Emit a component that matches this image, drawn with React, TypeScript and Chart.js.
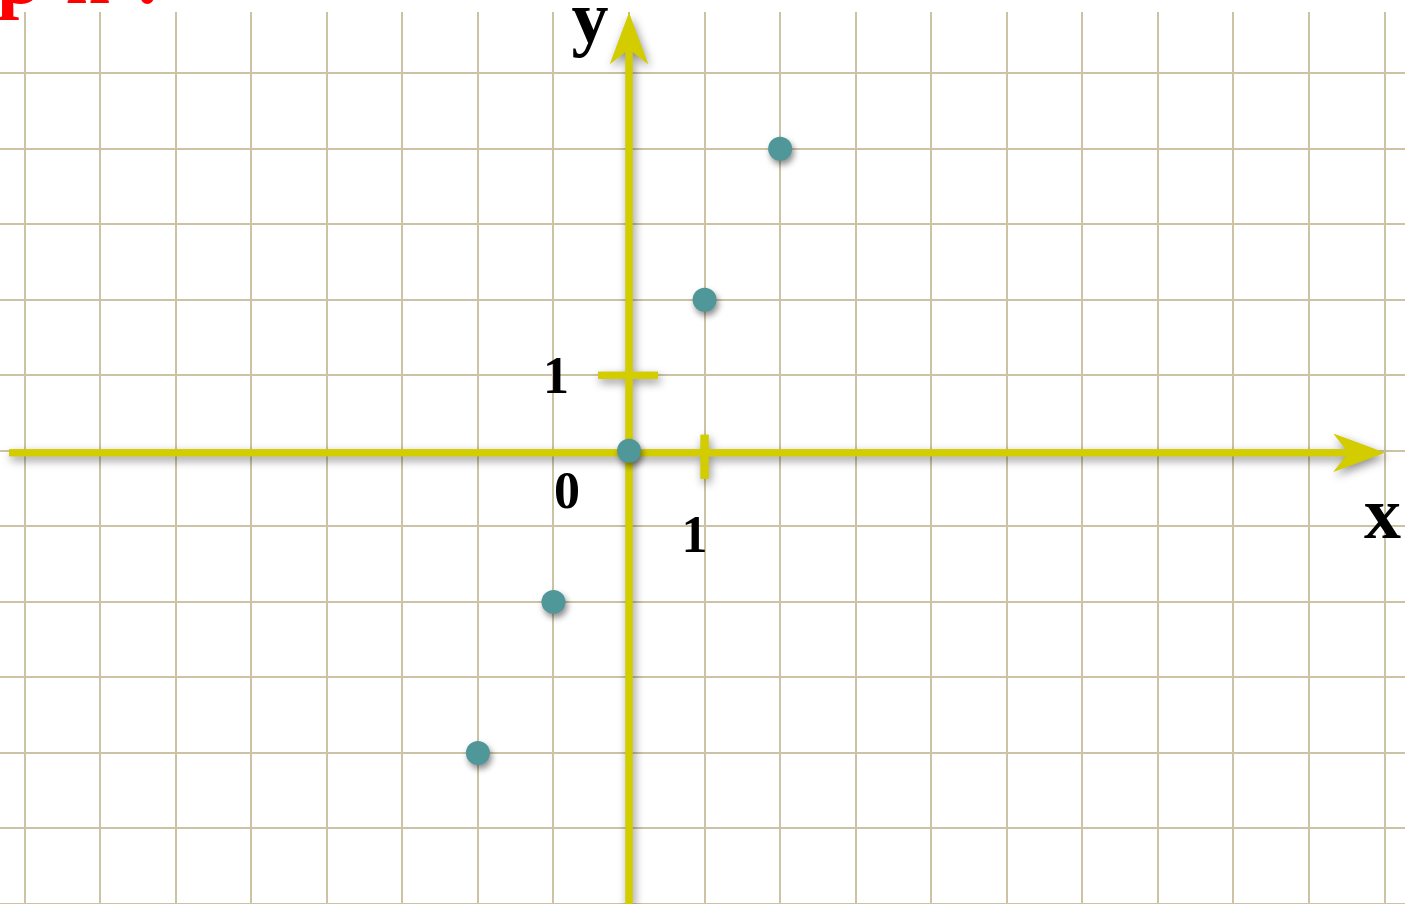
import React, { useEffect, useRef } from 'react';
import { Chart, registerables } from 'chart.js';

Chart.register(...registerables);

// ---- data ----
const xValues = [-2, -1, 0, 1, 2];
const yValues = [-4, -2, 0, 2, 4];
const xMin = -8.325;
const xMax = 10.27;
const yMin = -6.0;
const yMax = 5.81;
const xGridTicks = [-8, -7, -6, -5, -4, -3, -2, -1, 0, 1, 2, 3, 4, 5, 6, 7, 8, 9, 10];
const yGridTicks = [-6, -5, -4, -3, -2, -1, 0, 1, 2, 3, 4, 5];
const xArrowTip = 10;
const xAxisLabel = 'x';
const yAxisLabel = 'y';
const originLabel = '0';
const unitLabel = '1';
const headerText = 'ph!';

const gridColor = '#cbc3a3';
const yellow = '#d3cd00';
const pointColor = '#50979a';
const serif = '"Liberation Serif", "Times New Roman", serif';

function drawAxesShapes(ctx: CanvasRenderingContext2D, chart: any) {
  const { x, y } = chart.scales;
  const ox = x.getPixelForValue(0);
  const oy = y.getPixelForValue(0) + 2;
  const t = 7;
  const L = 51, N = 36, H = 19;
  const xTip = x.getPixelForValue(xArrowTip);
  const yTip = chart.chartArea.top + 1;
  const bottom = chart.chartArea.bottom;
  ctx.beginPath();
  ctx.rect(9, oy - t / 2, xTip - N - 9 + 2, t);
  ctx.moveTo(xTip, oy);
  ctx.lineTo(xTip - L, oy + H);
  ctx.lineTo(xTip - N, oy);
  ctx.lineTo(xTip - L, oy - H);
  ctx.closePath();
  ctx.rect(ox - t / 2, yTip + N - 2, t, bottom - (yTip + N - 2));
  ctx.moveTo(ox, yTip);
  ctx.lineTo(ox + H, yTip + L);
  ctx.lineTo(ox, yTip + N);
  ctx.lineTo(ox - H, yTip + L);
  ctx.closePath();
  const y1 = y.getPixelForValue(1);
  ctx.rect(ox - 31, y1 - 3.5, 60, 7);
  const x1 = x.getPixelForValue(1);
  ctx.rect(x1 - 4, oy - 18, 8, 44);
  ctx.fill();
}

const axesPlugin = {
  id: 'customAxes',
  beforeDatasetsDraw(chart: any) {
    const ctx = chart.ctx as CanvasRenderingContext2D;
    ctx.save();
    ctx.fillStyle = yellow;
    ctx.shadowColor = 'rgba(0,0,0,0.45)';
    ctx.shadowBlur = 10;
    ctx.shadowOffsetX = 2;
    ctx.shadowOffsetY = 4;
    drawAxesShapes(ctx, chart);
    ctx.restore();
    ctx.save();
    ctx.fillStyle = yellow;
    drawAxesShapes(ctx, chart);
    ctx.restore();
    ctx.save();
    ctx.shadowColor = 'rgba(0,0,0,0.45)';
    ctx.shadowBlur = 6;
    ctx.shadowOffsetX = 2;
    ctx.shadowOffsetY = 4;
  },
  afterDatasetsDraw(chart: any) {
    chart.ctx.restore();
  },
  afterDraw(chart: any) {
    const ctx = chart.ctx as CanvasRenderingContext2D;
    const { x, y } = chart.scales;
    const ox = x.getPixelForValue(0);
    const oy0 = y.getPixelForValue(0);
    ctx.save();
    ctx.fillStyle = '#000';
    ctx.textAlign = 'center';
    ctx.textBaseline = 'alphabetic';
    ctx.font = `bold 52px ${serif}`;
    ctx.fillText(unitLabel, ox - 73, y.getPixelForValue(1) + 18);
    ctx.fillText(originLabel, ox - 62, oy0 + 57);
    ctx.fillText(unitLabel, x.getPixelForValue(1) - 10, oy0 + 101);
    ctx.font = `bold 74px ${serif}`;
    ctx.fillText(yAxisLabel, ox - 39, 42);
    ctx.fillText(xAxisLabel, x.getPixelForValue(xArrowTip) - 2, oy0 + 87);
    ctx.fillStyle = '#ff0000';
    ctx.textAlign = 'left';
    ctx.font = `bold 80px ${serif}`;
    (ctx as any).letterSpacing = '24px';
    ctx.fillText(headerText, -3, 3);
    ctx.restore();
  },
};

const makeScale = (min: number, max: number, ticks: number[]) => ({
  type: 'linear',
  min,
  max,
  afterBuildTicks: (axis: any) => {
    axis.ticks = ticks.map((v) => ({ value: v }));
  },
  ticks: { display: false },
  grid: { color: gridColor, lineWidth: 2, drawTicks: false },
  border: { display: false },
});

export default function App() {
  const ref = useRef<HTMLCanvasElement | null>(null);
  useEffect(() => {
    if (!ref.current) return;
    const chart = new Chart(ref.current, {
      type: 'scatter',
      data: {
        datasets: [
          {
            data: xValues.map((v, i) => ({ x: v, y: yValues[i] })),
            pointRadius: 12,
            pointBackgroundColor: pointColor,
            pointBorderWidth: 0,
            borderWidth: 0,
            showLine: false,
          },
        ],
      },
      options: {
        responsive: false,
        animation: false,
        events: [],
        layout: { autoPadding: false, padding: { top: 12, left: 0, right: 0, bottom: 0 } },
        plugins: {
          legend: { display: false },
          tooltip: { enabled: false },
          title: { display: false },
        },
        scales: {
          x: makeScale(xMin, xMax, xGridTicks),
          y: makeScale(yMin, yMax, yGridTicks),
        },
      } as any,
      plugins: [axesPlugin],
    });
    return () => chart.destroy();
  }, []);
  return (
    <canvas
      ref={ref}
      width={1405}
      height={904}
      style={{ position: 'fixed', left: 0, top: 0, width: 1405, height: 904, display: 'block', background: '#fff' }}
    />
  );
}
